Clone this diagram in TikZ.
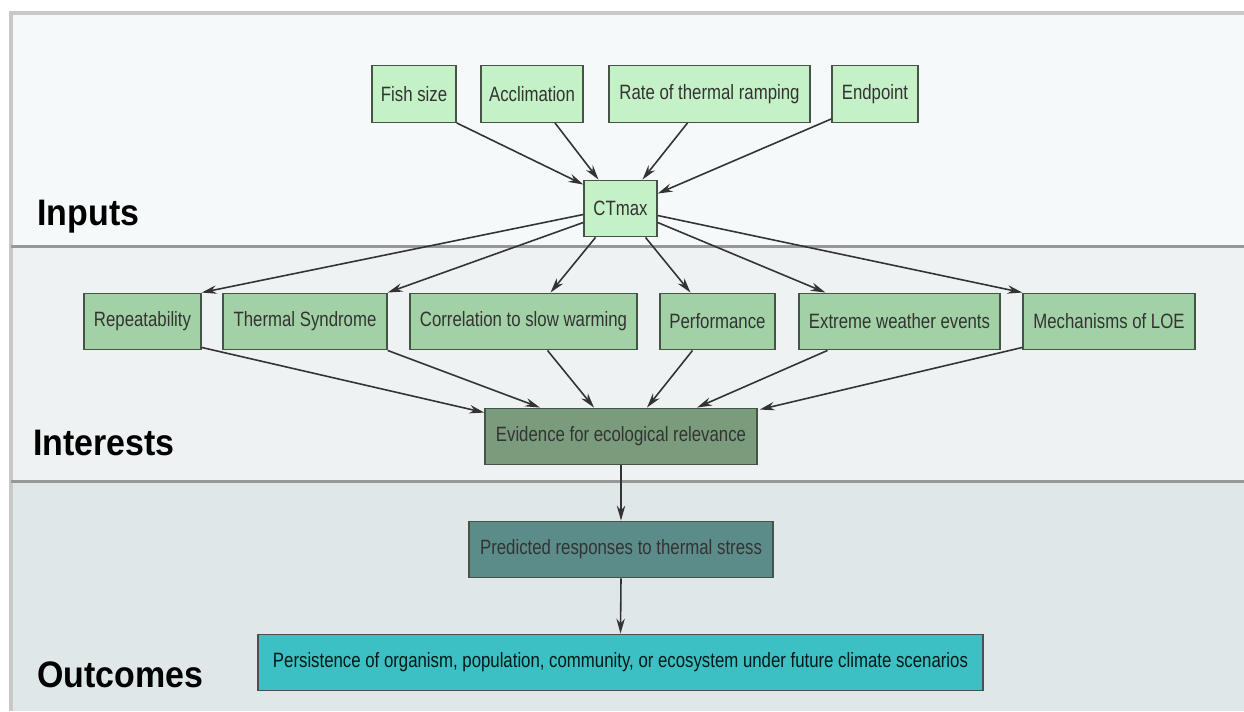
\documentclass[tikz,border=0pt]{standalone}
\usepackage{fontspec}
\usepackage{tikz}
\usetikzlibrary{positioning,calc,arrows.meta}
\newfontfamily\boxfont[FakeStretch=0.81]{Liberation Sans}
\newfontfamily\bandfont[FakeStretch=0.92]{Liberation Sans}
\definecolor{bandtop}{RGB}{246,249,250}
\definecolor{bandmid}{RGB}{238,242,243}
\definecolor{bandlow}{RGB}{224,231,232}
\definecolor{framegray}{RGB}{200,200,200}
\definecolor{sepgray}{RGB}{152,152,152}
\definecolor{inpfill}{RGB}{196,241,198}
\definecolor{intfill}{RGB}{162,209,166}
\definecolor{evfill}{RGB}{122,156,125}
\definecolor{predfill}{RGB}{91,140,137}
\definecolor{persfill}{RGB}{60,192,195}
\definecolor{boxline}{RGB}{70,84,72}
\begin{document}
\begin{tikzpicture}[x=0.02cm,y=-0.02cm,
	box/.style={draw=boxline,line width=0.8pt,inner sep=0pt,minimum height=1.13cm,text=black!80,font=\boxfont\fontsize{11.8}{13}\selectfont},
	band/.style={anchor=base west,inner sep=0pt,font=\bandfont\bfseries\fontsize{21}{24}\selectfont},
	arr/.style={-{Stealth[length=8.5pt,width=4.8pt]},line width=0.9pt,draw=black!80}]
		\useasboundingbox (0,0) rectangle (1244,711);
		\fill[bandtop] (11,13) rectangle (1244,246);
		\fill[bandmid] (11,246) rectangle (1244,481);
		\fill[bandlow] (11,481) rectangle (1244,711);
		\draw[framegray,line width=2.3pt] (11,711)--(11,13)--(1244,13);
		\draw[sepgray,line width=1.7pt] (11,246)--(1244,246);
		\draw[sepgray,line width=1.7pt] (11,481)--(1244,481);
		
		\node[band] (inputs) at (37,225) {Inputs};
		\node[band] (interests) at (33,455) {Interests};
		\node[band] (outcomes) at (37,687) {Outcomes};
		
		\node[box,fill=inpfill,minimum width=1.68cm] (fish) at (414,94) {Fish size};
		\node[box,fill=inpfill,minimum width=2.04cm] (accl) at (532,94) {Acclimation};
		\node[box,fill=inpfill,minimum width=4.02cm] (ramp) at (709.5,94) {Rate of thermal ramping};
		\node[box,fill=inpfill,minimum width=1.72cm] (endp) at (875,94) {Endpoint};
		\node[box,fill=inpfill,minimum width=1.46cm] (ctmax) at (620.5,208.5) {CTmax};
		
		\node[box,fill=intfill,minimum width=2.34cm] (rep) at (142.5,321.5) {Repeatability};
		\node[box,fill=intfill,minimum width=3.28cm] (syn) at (305,321.5) {Thermal Syndrome};
		\node[box,fill=intfill,minimum width=4.54cm] (corr) at (523.5,321.5) {Correlation to slow warming};
		\node[box,fill=intfill,minimum width=2.30cm] (perf) at (717.5,321.5) {Performance};
		\node[box,fill=intfill,minimum width=4.02cm] (extr) at (899.5,321.5) {Extreme weather events};
		\node[box,fill=intfill,minimum width=3.44cm] (loe) at (1109,321.5) {Mechanisms of LOE};
		
		\node[box,fill=evfill,minimum width=5.44cm] (evid) at (621,436.5) {Evidence for ecological relevance};
		\node[box,fill=predfill,minimum width=6.08cm] (pred) at (621,549.5) {Predicted responses to thermal stress};
		\node[box,fill=persfill,minimum width=14.5cm,text=black!80!teal] (pers) at (620.5,662.5) {Persistence of organism, population, community, or ecosystem under future climate scenarios};
		
		\draw[arr] (fish.south east)--($(ctmax.north west)+(0,5)$);
		\draw[arr] ($(accl.south)+(23,0)$)--($(ctmax.north)+(-22,0)$);
		\draw[arr] ($(ramp.south)+(-22,0)$)--($(ctmax.north)+(22,0)$);
		\draw[arr] ($(endp.south west)+(0,-4)$)--($(ctmax.north east)+(0,14)$);
		
		\draw[arr] ($(ctmax.west)+(0,6)$)--(rep.north east);
		\draw[arr] ($(ctmax.west)+(0,14)$)--(syn.north east);
		\draw[arr] ($(ctmax.south)+(-25,0)$)--($(corr.north)+(27,0)$);
		\draw[arr] ($(ctmax.south)+(25,0)$)--($(perf.north)+(-27,0)$);
		\draw[arr] ($(ctmax.east)+(0,14)$)--($(extr.north)+(-74,0)$);
		\draw[arr] ($(ctmax.east)+(0,7)$)--(loe.north west);
		
		\draw[arr] ($(rep.south east)+(0,-3)$)--($(evid.north west)+(0,5)$);
		\draw[arr] (syn.south east)--($(evid.north)+(-81,0)$);
		\draw[arr] ($(corr.south)+(24,0)$)--($(evid.north)+(-27,0)$);
		\draw[arr] ($(perf.south)+(-25,0)$)--($(evid.north)+(26,0)$);
		\draw[arr] ($(extr.south)+(-72,0)$)--($(evid.north)+(76,0)$);
		\draw[arr] ($(loe.south west)+(0,-3)$)--($(evid.north east)+(2,2)$);
		
		\draw[arr] (evid.south)--(pred.north);
		\draw[arr] (pred.south)--(pers.north);
	\end{tikzpicture}
\end{document}
